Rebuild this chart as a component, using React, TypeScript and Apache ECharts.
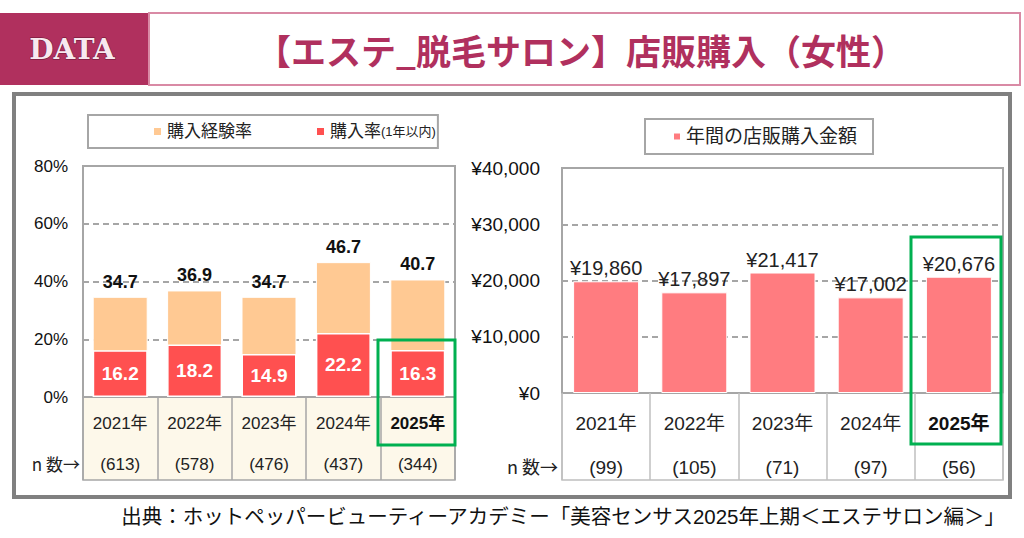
import React, { useEffect, useRef } from "react";
import * as echarts from "echarts";

const years = ["2021年", "2022年", "2023年", "2024年", "2025年"];
const leftN = ["(613)", "(578)", "(476)", "(437)", "(344)"];
const rightN = ["(99)", "(105)", "(71)", "(97)", "(56)"];
const experienceRate = [34.7, 36.9, 34.7, 46.7, 40.7];
const purchaseRate1y = [16.2, 18.2, 14.9, 22.2, 16.3];
const annualAmount = [19860, 17897, 21417, 17002, 20676];

const FONT = "'Liberation Sans', 'Noto Sans CJK JP', sans-serif";
const JP = "'Noto Sans CJK JP', sans-serif";

export default function App() {
  const ref = useRef<HTMLDivElement>(null);
  useEffect(() => {
    document.body.style.margin = "0";
    const chart = echarts.init(ref.current!, null, { renderer: "svg" });
    const yen = (v: number) => "¥" + v.toLocaleString("en-US");
    chart.setOption({
      animation: false,
      backgroundColor: "#fff",
      textStyle: { fontFamily: FONT },
      legend: [
        {
          left: 88,
          top: 115,
          data: ["購入経験率", "購入率"],
          icon: "rect",
          itemWidth: 9,
          itemHeight: 9,
          itemGap: 63,
          borderColor: "#a6a6a6",
          borderWidth: 2,
          padding: [8, 2, 8, 64],
          selectedMode: false,
          formatter: (name: string) => (name === "購入率" ? "購入率{s|(1年以内)}" : name),
          textStyle: {
            fontSize: 17,
            color: "#222",
            fontFamily: FONT,
            rich: { s: { fontSize: 13, color: "#222", fontFamily: FONT } },
          },
        },
        {
          left: 645,
          top: 119,
          data: ["年間の店販購入金額"],
          icon: "rect",
          itemWidth: 8,
          itemHeight: 8,
          borderColor: "#a6a6a6",
          borderWidth: 2,
          padding: [8, 16, 8, 27],
          selectedMode: false,
          textStyle: { fontSize: 19, color: "#222", fontFamily: FONT },
        },
      ],
      grid: [
        { left: 83, top: 166, width: 372, height: 231, show: true, borderColor: "#a6a6a6", borderWidth: 2 },
        { left: 562, top: 168, width: 441, height: 225, show: true, borderColor: "#a6a6a6", borderWidth: 2 },
      ],
      xAxis: [
        {
          type: "category",
          gridIndex: 0,
          data: years,
          boundaryGap: true,
          axisLine: { show: true, lineStyle: { color: "#a6a6a6", width: 2 } },
          axisTick: { show: true, length: 83, lineStyle: { color: "#a6a6a6", width: 1.5 } },
          axisLabel: {
            interval: 0,
            margin: 0,
            formatter: (v: string, i: number) =>
              (i === 4 ? "{yb|" + v + "}" : "{y|" + v + "}") + "\n{n|" + leftN[i] + "}",
            rich: {
              y: { fontSize: 17, lineHeight: 52, color: "#222", fontFamily: FONT },
              yb: { fontSize: 17, lineHeight: 52, color: "#111", fontWeight: "bold", fontFamily: FONT },
              n: { fontSize: 17, lineHeight: 30, color: "#222", fontFamily: FONT },
            },
          },
        },
        {
          type: "category",
          gridIndex: 1,
          data: years,
          boundaryGap: true,
          axisLine: { show: true, lineStyle: { color: "#a6a6a6", width: 2 } },
          axisTick: { show: true, length: 87, lineStyle: { color: "#bfbfbf", width: 1.5 } },
          axisLabel: {
            interval: 0,
            margin: 0,
            formatter: (v: string, i: number) =>
              (i === 4 ? "{yb|" + v + "}" : "{y|" + v + "}") + "\n{n|" + rightN[i] + "}",
            rich: {
              y: { fontSize: 19, lineHeight: 60, color: "#222", fontFamily: FONT },
              yb: { fontSize: 19, lineHeight: 60, color: "#111", fontWeight: "bold", fontFamily: FONT },
              n: { fontSize: 19, lineHeight: 28, color: "#222", fontFamily: FONT },
            },
          },
        },
      ],
      yAxis: [
        {
          type: "value",
          gridIndex: 0,
          min: 0,
          max: 80,
          interval: 20,
          axisLine: { show: false },
          axisTick: { show: false },
          axisLabel: { formatter: "{value}%", fontSize: 17, color: "#111", margin: 15 },
          splitLine: { show: true, lineStyle: { color: "#a6a6a6", width: 2, type: [6, 4] } },
        },
        {
          type: "value",
          gridIndex: 1,
          min: 0,
          max: 40000,
          interval: 10000,
          axisLine: { show: false },
          axisTick: { show: false },
          axisLabel: { formatter: (v: number) => yen(v), fontSize: 19, color: "#111", margin: 22 },
          splitLine: { show: true, lineStyle: { color: "#a6a6a6", width: 2, type: [6, 4] } },
        },
      ],
      series: [
        {
          name: "購入経験率",
          type: "bar",
          xAxisIndex: 0,
          yAxisIndex: 0,
          data: experienceRate,
          barWidth: 55,
          itemStyle: { color: "#ffc993", borderColor: "#fff", borderWidth: 1 },
          label: {
            show: true,
            position: "top",
            distance: 6,
            formatter: (p: any) => p.value.toFixed(1),
            fontSize: 18,
            fontWeight: "bold",
            color: "#111",
          },
        },
        {
          name: "購入率",
          type: "bar",
          xAxisIndex: 0,
          yAxisIndex: 0,
          data: purchaseRate1y,
          barWidth: 55,
          barGap: "-100%",
          itemStyle: { color: "#ff5050", borderColor: "#fff", borderWidth: 1.5 },
          label: {
            show: true,
            position: "inside",
            formatter: (p: any) => p.value.toFixed(1),
            fontSize: 19,
            fontWeight: "bold",
            color: "#fff",
          },
        },
        {
          name: "年間の店販購入金額",
          type: "bar",
          xAxisIndex: 1,
          yAxisIndex: 1,
          data: annualAmount,
          barWidth: 66,
          itemStyle: { color: "#ff7c80", borderColor: "#fff", borderWidth: 1 },
          label: {
            show: true,
            position: "top",
            distance: 3,
            formatter: (p: any) => yen(p.value),
            fontSize: 20,
            color: "#222",
          },
        },
      ],
      graphic: {
        elements: [
          { type: "rect", z: -10, shape: { x: 0, y: 13, width: 148, height: 72 }, style: { fill: "#b0305e" } },
          {
            type: "rect",
            z: -10,
            shape: { x: 149, y: 13, width: 871, height: 72 },
            style: { fill: "#fff", stroke: "#d98aa5", lineWidth: 2 },
          },
          {
            type: "text",
            x: 72,
            y: 49,
            style: {
              text: "DATA",
              fill: "#f8e8ef",
              stroke: "#6a1535",
              lineWidth: 1,
              font: "bold 28px 'DejaVu Serif', serif",
              align: "center",
              verticalAlign: "middle",
            },
          },
          {
            type: "text",
            x: 581,
            y: 49,
            style: {
              text: "【エステ_脱毛サロン】店販購入（女性）",
              fill: "#b0305e",
              font: "bold 35px " + JP,
              align: "center",
              verticalAlign: "middle",
            },
          },
          {
            type: "rect",
            z: -10,
            shape: { x: 14, y: 94, width: 996, height: 403 },
            style: { fill: "none", stroke: "#808080", lineWidth: 4 },
          },
          {
            type: "rect",
            z: -10,
            shape: { x: 83, y: 397, width: 372, height: 83 },
            style: { fill: "#fdf8ea", stroke: "#a6a6a6", lineWidth: 1.5 },
          },
          {
            type: "rect",
            z: -10,
            shape: { x: 562, y: 393, width: 441, height: 87 },
            style: { fill: "none", stroke: "#bfbfbf", lineWidth: 1.5 },
          },
          {
            type: "text",
            x: 80,
            y: 463,
            style: { text: "n 数→", fill: "#222", font: "17px " + JP, align: "right", verticalAlign: "middle" },
          },
          {
            type: "text",
            x: 558,
            y: 466,
            style: { text: "n 数→", fill: "#222", font: "18px " + JP, align: "right", verticalAlign: "middle" },
          },
          {
            type: "rect",
            z: 100,
            shape: { x: 378, y: 340, width: 77, height: 105 },
            style: { fill: "none", stroke: "#00b050", lineWidth: 3 },
          },
          {
            type: "rect",
            z: 100,
            shape: { x: 911, y: 237, width: 90, height: 207 },
            style: { fill: "none", stroke: "#00b050", lineWidth: 3 },
          },
          {
            type: "text",
            x: 1005,
            y: 516,
            style: {
              text: "出典：ホットペッパービューティーアカデミー「美容センサス2025年上期＜エステサロン編＞」",
              fill: "#111",
              font: "20.5px " + FONT,
              align: "right",
              verticalAlign: "middle",
            },
          },
        ],
      },
    });
    return () => chart.dispose();
  }, []);
  return <div ref={ref} style={{ width: 1024, height: 538 }} />;
}
